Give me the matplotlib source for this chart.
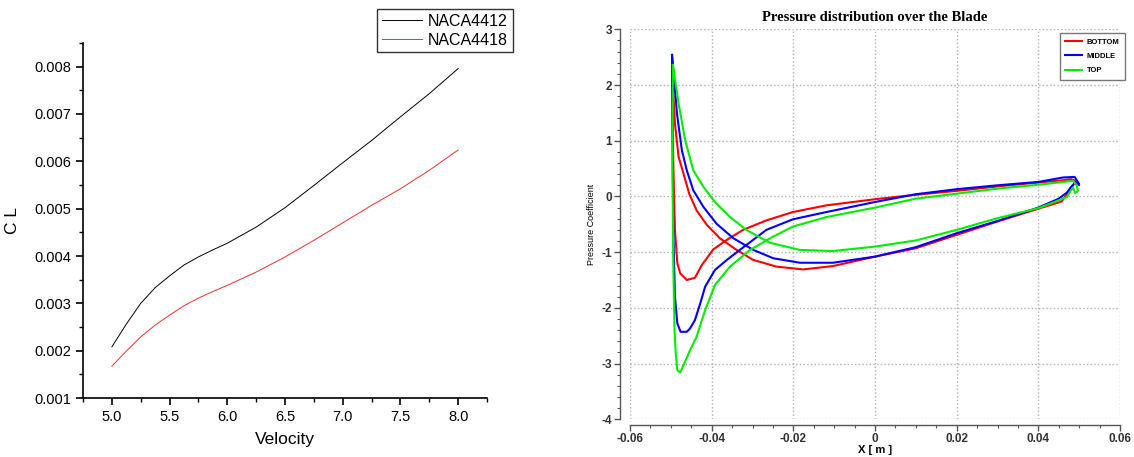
import matplotlib.pyplot as plt
from matplotlib.ticker import MultipleLocator, FixedLocator, FixedFormatter
import numpy as np

# ---- left panel: lift coefficient vs velocity ----
velocity = [5.0, 5.125, 5.25, 5.375, 5.5, 5.625, 5.75, 5.875, 6.0, 6.25, 6.5, 6.75, 7.0, 7.25, 7.5, 7.75, 8.0]
cl_4412 = [0.00208, 0.00256, 0.00300, 0.00333, 0.00358, 0.00381, 0.00398, 0.00413, 0.00427, 0.00461, 0.00502,
           0.00549, 0.00597, 0.00644, 0.00694, 0.00743, 0.00796]
cl_4418 = [0.00167, 0.00199, 0.00229, 0.00254, 0.00275, 0.00295, 0.00311, 0.00325, 0.00338, 0.00366, 0.00398,
           0.00433, 0.00470, 0.00507, 0.00542, 0.00581, 0.00624]

# ---- right panel: pressure coefficient loops (leading edge -> suction side -> TE -> pressure side -> LE) ----
x_bottom = [-0.0497, -0.0494, -0.0490, -0.0484, -0.0477, -0.0461, -0.0441, -0.0424, -0.0396, -0.0363, -0.0323,
            -0.0266, -0.0201, -0.0119, 0.0, 0.01, 0.02, 0.03, 0.04, 0.046, 0.048, 0.0495, 0.0500,
            0.0489, 0.0477, 0.0457, 0.044, 0.04, 0.03, 0.02, 0.01, 0.0, -0.0103, -0.0176, -0.0241, -0.0298,
            -0.0339, -0.0380, -0.0412, -0.0437, -0.0455, -0.0469, -0.0481, -0.0490, -0.0497]
cp_bottom = [2.25, 0.59, -0.60, -1.20, -1.38, -1.50, -1.46, -1.23, -0.95, -0.78, -0.60,
             -0.43, -0.28, -0.16, -0.05, 0.03, 0.10, 0.18, 0.25, 0.29, 0.31, 0.27, 0.20,
             0.24, 0.11, -0.09, -0.13, -0.22, -0.45, -0.69, -0.93, -1.08, -1.25, -1.31, -1.26, -1.14,
             -0.96, -0.75, -0.51, -0.25, 0.05, 0.41, 0.71, 1.31, 2.25]

x_middle = [-0.0497, -0.0496, -0.0494, -0.0490, -0.0484, -0.0476, -0.0461, -0.0453, -0.0441, -0.0428, -0.0416,
            -0.0392, -0.0363, -0.0331, -0.0266, -0.0201, -0.0119, 0.0, 0.01, 0.02, 0.03, 0.04, 0.046, 0.0489,
            0.0496, 0.0500, 0.049, 0.048, 0.047, 0.045, 0.04, 0.03, 0.02, 0.01, 0.0, -0.0103, -0.0184, -0.0249,
            -0.0298, -0.0347, -0.0388, -0.0420, -0.0445, -0.0461, -0.0473, -0.0485, -0.0497]
cp_middle = [2.54, 1.19, -0.60, -1.80, -2.28, -2.43, -2.43, -2.37, -2.22, -1.92, -1.62,
             -1.32, -1.14, -0.96, -0.60, -0.41, -0.28, -0.10, 0.04, 0.13, 0.20, 0.26, 0.34, 0.35,
             0.27, 0.22, 0.25, 0.17, 0.07, -0.04, -0.20, -0.44, -0.66, -0.91, -1.08, -1.19, -1.19, -1.11,
             -0.96, -0.75, -0.49, -0.19, 0.11, 0.47, 0.83, 1.49, 2.54]

x_top = [-0.0495, -0.0496, -0.0494, -0.0491, -0.0488, -0.0484, -0.0477, -0.0469, -0.0453, -0.0437, -0.0416,
         -0.0392, -0.0355, -0.0306, -0.0249, -0.0201, -0.0119, 0.0, 0.01, 0.02, 0.03, 0.04, 0.046, 0.0485,
         0.0494, 0.0497, 0.0490, 0.0485, 0.048, 0.047, 0.045, 0.04, 0.03, 0.02, 0.01, 0.0, -0.0103, -0.0184,
         -0.0258, -0.0315, -0.0355, -0.0392, -0.0420, -0.0445, -0.0465, -0.0481, -0.0495]
cp_top = [2.36, 0.59, -1.20, -2.40, -2.82, -3.12, -3.16, -3.03, -2.76, -2.52, -2.04,
          -1.59, -1.26, -0.96, -0.72, -0.54, -0.37, -0.20, -0.04, 0.05, 0.14, 0.21, 0.26, 0.28,
          0.20, 0.10, 0.06, 0.16, 0.11, -0.01, -0.07, -0.21, -0.39, -0.60, -0.79, -0.90, -0.98, -0.96,
          -0.83, -0.60, -0.37, -0.10, 0.17, 0.47, 1.01, 1.67, 2.36]

cp_series = [("BOTTOM", x_bottom, cp_bottom, "#ff0000"),
             ("MIDDLE", x_middle, cp_middle, "#0000ff"),
             ("TOP", x_top, cp_top, "#00ee00")]

x_ticks = [-0.06, -0.04, -0.02, 0.0, 0.02, 0.04, 0.06]
x_tick_labels = ["-0.06", "-0.04", "-0.02", "0", "0.02", "0.04", "0.06"]
y_ticks = [-4, -3, -2, -1, 0, 1, 2, 3]
y_tick_labels = ["-4", "-3", "-2", "-1", "0", "1", "2", "3"]

plt.rcParams['font.family'] = ['Liberation Sans', 'DejaVu Sans']

fig = plt.figure(figsize=(11.34, 4.57), dpi=100)

# left
ax1 = fig.add_axes([83 / 1134, 1 - 398 / 457, 404 / 1134, 355 / 457])
ax1.plot(velocity, cl_4412, color='black', lw=0.7, label='NACA4412')
ax1.plot(velocity, cl_4418, color='#f03030', lw=0.7, label='NACA4418')
ax1.set_xlim(4.75, 8.25)
ax1.set_ylim(0.001, 0.0085)
ax1.xaxis.set_major_locator(MultipleLocator(0.5))
ax1.xaxis.set_minor_locator(MultipleLocator(0.25))
ax1.yaxis.set_major_locator(MultipleLocator(0.001))
ax1.yaxis.set_minor_locator(MultipleLocator(0.0005))
ax1.xaxis.set_major_formatter(plt.FormatStrFormatter('%.1f'))
ax1.yaxis.set_major_formatter(plt.FormatStrFormatter('%.3f'))
for s in ['top', 'right']:
    ax1.spines[s].set_visible(False)
for s in ['left', 'bottom']:
    ax1.spines[s].set_linewidth(1.2)
ax1.tick_params(which='major', direction='out', length=5, width=1.2, labelsize=10.5)
ax1.tick_params(which='minor', direction='out', length=3, width=1.0)
ax1.set_xlabel('Velocity', fontsize=12.5, labelpad=6)
ax1.set_ylabel('C L', fontsize=12.5, labelpad=10)
leg1 = ax1.legend(loc='upper right', bbox_to_anchor=(1.064, 1.096), borderaxespad=0,
                  fancybox=False, edgecolor='black', fontsize=11.5, handlelength=2.5,
                  borderpad=0.3, labelspacing=0.25, handletextpad=0.4)
leg1.get_frame().set_linewidth(1.0)

# right
ax2 = fig.add_axes([630 / 1134, 1 - 419.3 / 457, 490 / 1134, 390 / 457])
for name, xs, cps, col in cp_series:
    ax2.plot(xs, cps, color=col, lw=1.5, label=name)
ax2.set_xlim(-0.06, 0.06)
ax2.set_ylim(-4, 3)
ax2.xaxis.set_major_locator(FixedLocator(x_ticks))
ax2.xaxis.set_major_formatter(FixedFormatter(x_tick_labels))
ax2.yaxis.set_major_locator(FixedLocator(y_ticks))
ax2.yaxis.set_major_formatter(FixedFormatter(y_tick_labels))
ax2.xaxis.set_minor_locator(MultipleLocator(0.005))
ax2.yaxis.set_minor_locator(MultipleLocator(0.2))
for s in ['top', 'right']:
    ax2.spines[s].set_visible(False)
ax2.spines['left'].set_position(('outward', 7))
ax2.spines['bottom'].set_position(('outward', 4))
for s in ['left', 'bottom']:
    ax2.spines[s].set_color('#555555')
    ax2.spines[s].set_linewidth(1.0)
ax2.tick_params(which='major', direction='out', length=4, width=1.0, color='#555555',
                labelsize=8.5, pad=2)
ax2.tick_params(which='minor', direction='out', length=2.5, width=0.8, color='#555555')
for lab in ax2.get_xticklabels() + ax2.get_yticklabels():
    lab.set_fontweight('bold')
    lab.set_color('#333333')
ax2.grid(True, which='major', color='#b0b0b0', linestyle=':', lw=1.0)
ax2.set_axisbelow(True)
ax2.set_title('Pressure distribution over the Blade', family='Liberation Serif',
              fontweight='bold', fontsize=10.5, pad=6)
ax2.set_xlabel('X [ m ]', fontweight='bold', fontsize=8, labelpad=0)
ax2.set_ylabel('Pressure Coefficient', fontsize=6.5, labelpad=4)
leg2 = ax2.legend(loc='upper right', bbox_to_anchor=(1.01, 0.99), borderaxespad=0,
                  fancybox=False, edgecolor='#555555', prop={'size': 5.5, 'weight': 'bold'},
                  handlelength=2.2, borderpad=0.7, labelspacing=0.9, handletextpad=0.6)
leg2.get_frame().set_linewidth(1.0)

fig.savefig('out.png', dpi=100)
